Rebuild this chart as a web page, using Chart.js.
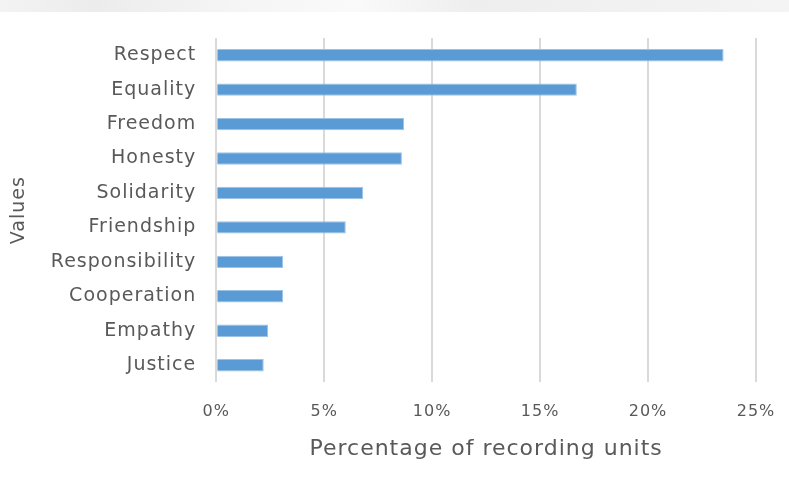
<!DOCTYPE html>
<html>
<head>
<meta charset="utf-8">
<script src="https://cdn.jsdelivr.net/npm/chart.js@4/dist/chart.umd.min.js"></script>
<style>
  html, body { margin: 0; padding: 0; background: #fff; }
  #band { position: absolute; left: 0; top: 0; width: 789px; height: 12px;
          background: linear-gradient(90deg, #f3f3f3 0%, #ececec 12%, #f5f5f5 30%, #fafafa 45%, #eeeeee 60%, #f4f4f4 100%); }
  #wrap { position: absolute; left: 0; top: 0; width: 789px; height: 482px; }
</style>
</head>
<body>
<div id="band"></div>
<div id="wrap"><canvas id="chart"></canvas></div>
<script>
(function() {
    'use strict';

    var categories = ['Respect', 'Equality', 'Freedom', 'Honesty', 'Solidarity',
                      'Friendship', 'Responsibility', 'Cooperation', 'Empathy', 'Justice'];
    var percentages = [23.5, 16.7, 8.7, 8.6, 6.8, 6.0, 3.1, 3.1, 2.4, 2.2];
    var xTicks = [0, 5, 10, 15, 20, 25];

    var textColor = '#595959';
    var gridColor = '#d9d9d9';

    // wide, Verdana-like spacing of the original
    var spacing = {
        id: 'spacing',
        beforeLayout: function(chart) { chart.ctx.letterSpacing = '1px'; },
        beforeDraw: function(chart) { chart.ctx.letterSpacing = '1px'; }
    };

    var ctx = document.getElementById('chart');
    new Chart(ctx, {
        type: 'bar',
        data: {
            labels: categories,
            datasets: [{
                data: percentages,
                backgroundColor: '#5b9bd5',
                borderColor: '#9cc3e6',
                borderWidth: 1,
                barPercentage: 0.36,
                categoryPercentage: 1
            }]
        },
        options: {
            indexAxis: 'y',
            responsive: true,
            maintainAspectRatio: false,
            animation: false,
            layout: { padding: { top: 38, left: 8, right: 2, bottom: 20 } },
            plugins: {
                legend: { display: false },
                tooltip: { enabled: false }
            },
            scales: {
                x: {
                    min: 0,
                    max: 25,
                    afterBuildTicks: function(axis) {
                        axis.ticks = xTicks.map(function(v) { return { value: v }; });
                    },
                    afterFit: function(axis) {
                        // tick padding is meant vertically, not for the right edge
                        axis.paddingRight = 33;
                    },
                    grid: { color: gridColor, lineWidth: 2, drawTicks: false },
                    border: { display: false },
                    ticks: {
                        color: textColor,
                        padding: 20,
                        font: { family: 'DejaVu Sans', size: 16 },
                        callback: function(v) { return v + '%'; }
                    },
                    title: {
                        display: true,
                        text: 'Percentage of recording units',
                        color: textColor,
                        font: { family: 'DejaVu Sans', size: 22 },
                        padding: { top: -6, bottom: 0 }
                    }
                },
                y: {
                    grid: { display: false, drawTicks: false },
                    border: { display: false },
                    ticks: {
                        color: textColor,
                        padding: 20,
                        font: { family: 'DejaVu Sans', size: 19 }
                    },
                    title: {
                        display: true,
                        text: 'Values',
                        color: textColor,
                        font: { family: 'DejaVu Sans', size: 19 },
                        padding: { top: 0, bottom: 0 }
                    }
                }
            }
        },
        plugins: [spacing]
    });
})();
</script>
</body>
</html>
